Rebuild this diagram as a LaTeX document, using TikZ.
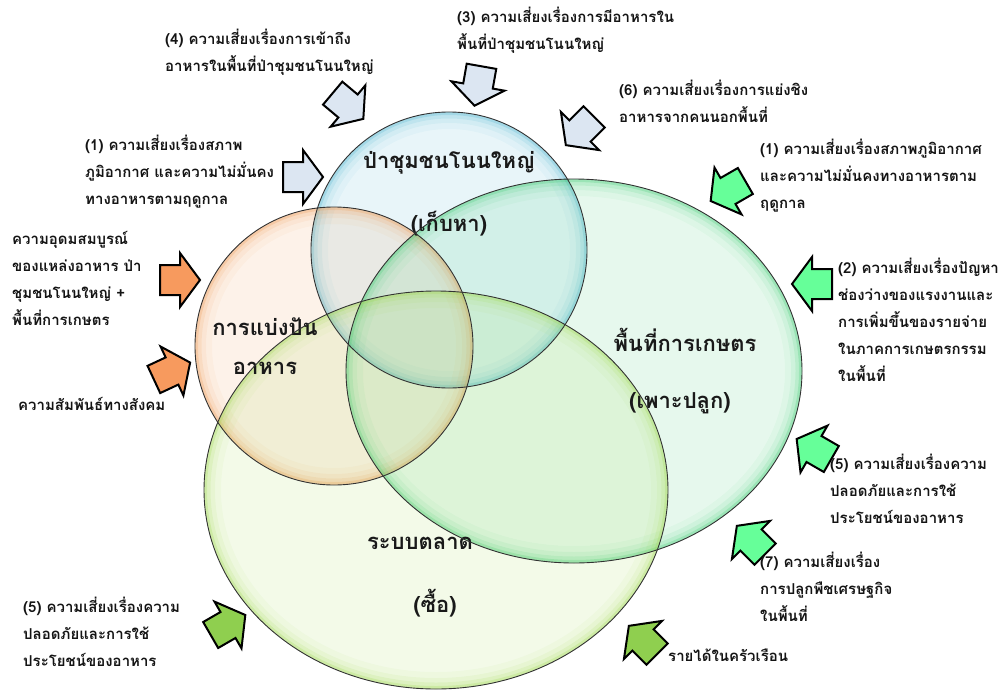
\documentclass[tikz,border=0pt]{standalone}
\usepackage{fontspec}
\newfontfamily\thai[Script=Thai]{Loma}
\definecolor{cblue}{HTML}{4FB4D0}
\definecolor{corange}{HTML}{EE9A55}
\definecolor{cgreen}{HTML}{40CC74}
\definecolor{cyel}{HTML}{A0D850}
\definecolor{abl}{HTML}{DCE6F2}
\definecolor{aor}{HTML}{F79A5E}
\definecolor{agr}{HTML}{66FF99}
\definecolor{adg}{HTML}{8FCF4F}
\newcommand\glowell[5]{%
 \begin{scope}
 \clip (#1,#2) ellipse [x radius=#3, y radius=#4];
 \fill[#5, opacity=0.13] (#1,#2) ellipse [x radius=#3, y radius=#4];
 \foreach \w/\o in {34/0.06,22/0.09,13/0.14,6/0.25}{\draw[#5, line width=\w pt, opacity=\o] (#1,#2) ellipse [x radius=#3, y radius=#4];}
 \end{scope}}
\newcommand\blkarrow[4]{%
 \draw[blk, fill=#4, shift={(#1,#2)}, rotate=#3] (-20,-15) -- (0,-15) -- (0,-27) -- (20,0) -- (0,27) -- (0,15) -- (-20,15) -- cycle;}
\begin{document}
\begin{tikzpicture}[x=1pt,y=-1pt,
  lbl/.style={font=\thai\bfseries\fontsize{15}{27}\selectfont, align=left, anchor=north west, inner sep=0pt, text=black!92},
  big/.style={font=\thai\bfseries\fontsize{22}{26}\selectfont, inner sep=0pt, text=black!90},
  blk/.style={draw=black, line width=2pt, line join=miter}]
\useasboundingbox (0,0) rectangle (1003,690);
% ellipse fills with inner glow
\glowell{449}{250}{138}{138}{cblue}
\glowell{334}{346}{139}{139}{corange}
\glowell{574}{371}{228}{192}{cgreen}
\glowell{436}{490}{232}{199}{cyel}
% circle labels
\node[big] (lforest) at (449,163) {ป่าชุมชนโนนใหญ่};
\node[big] (lforest2) at (449,224) {(เก็บหา)};
\node[big] (lshare) at (265,327) {การแบ่งปัน};
\node[big] (lshare2) at (265,368) {อาหาร};
\node[big] (lfarm) at (685,340) {พื้นที่การเกษตร};
\node[big] (lfarm2) at (680,403) {(เพาะปลูก)};
\node[big] (lmarket) at (420,543) {ระบบตลาด};
\node[big] (lmarket2) at (435,603) {(ซื้อ)};
% outlines
\draw[black!80, line width=0.9pt] (449,250) circle [radius=138];
\draw[black!80, line width=0.9pt] (334,346) circle [radius=139];
\draw[black!80, line width=0.9pt] (574,371) ellipse [x radius=228, y radius=192];
\draw[black!80, line width=0.9pt] (436,490) ellipse [x radius=232, y radius=199];
% block arrows (rotation counter-clockwise on the page)
\blkarrow{348}{106}{-40}{abl}
\blkarrow{478}{86}{-100}{abl}
\blkarrow{580}{131}{-135}{abl}
\blkarrow{303}{177}{0}{abl}
\blkarrow{180}{280}{0}{aor}
\blkarrow{172}{371}{25}{aor}
\blkarrow{728}{191}{-150}{agr}
\blkarrow{812}{284}{180}{agr}
\blkarrow{814}{449}{150}{agr}
\blkarrow{751}{540}{135}{agr}
\blkarrow{643}{640}{135}{adg}
\blkarrow{228}{625}{30}{adg}
% labels
\node[lbl] (t4) at (165,29) {(4) ความเสี่ยงเรื่องการเข้าถึง\\อาหารในพื้นที่ป่าชุมชนโนนใหญ่};
\node[lbl] (t3) at (457,7) {(3) ความเสี่ยงเรื่องการมีอาหารใน\\พื้นที่ป่าชุมชนโนนใหญ่};
\node[lbl] (t6) at (619,80) {(6) ความเสี่ยงเรื่องการแย่งชิง\\อาหารจากคนนอกพื้นที่};
\node[lbl] (t1l) at (85,135) {(1) ความเสี่ยงเรื่องสภาพ\\ภูมิอากาศ และความไม่มั่นคง\\ทางอาหารตามฤดูกาล};
\node[lbl] (t1r) at (760,139) {(1) ความเสี่ยงเรื่องสภาพภูมิอากาศ\\และความไม่มั่นคงทางอาหารตาม\\ฤดูกาล};
\node[lbl] (tab) at (12,231) {ความอุดมสมบูรณ์\\ของแหล่งอาหาร ป่า\\ชุมชนโนนใหญ่ +\\พื้นที่การเกษตร};
\node[lbl] (tsoc) at (18,397) {ความสัมพันธ์ทางสังคม};
\node[lbl] (t2) at (838,258) {(2) ความเสี่ยงเรื่องปัญหา\\ช่องว่างของแรงงานและ\\การเพิ่มขึ้นของรายจ่าย\\ในภาคการเกษตรกรรม\\ในพื้นที่};
\node[lbl] (t5r) at (830,454) {(5) ความเสี่ยงเรื่องความ\\ปลอดภัยและการใช้\\ประโยชน์ของอาหาร};
\node[lbl] (t7) at (760,552) {(7) ความเสี่ยงเรื่อง\\การปลูกพืชเศรษฐกิจ\\ในพื้นที่};
\node[lbl] (tinc) at (668,649) {รายได้ในครัวเรือน};
\node[lbl] (t5l) at (23,597) {(5) ความเสี่ยงเรื่องความ\\ปลอดภัยและการใช้\\ประโยชน์ของอาหาร};
\end{tikzpicture}
\end{document}
